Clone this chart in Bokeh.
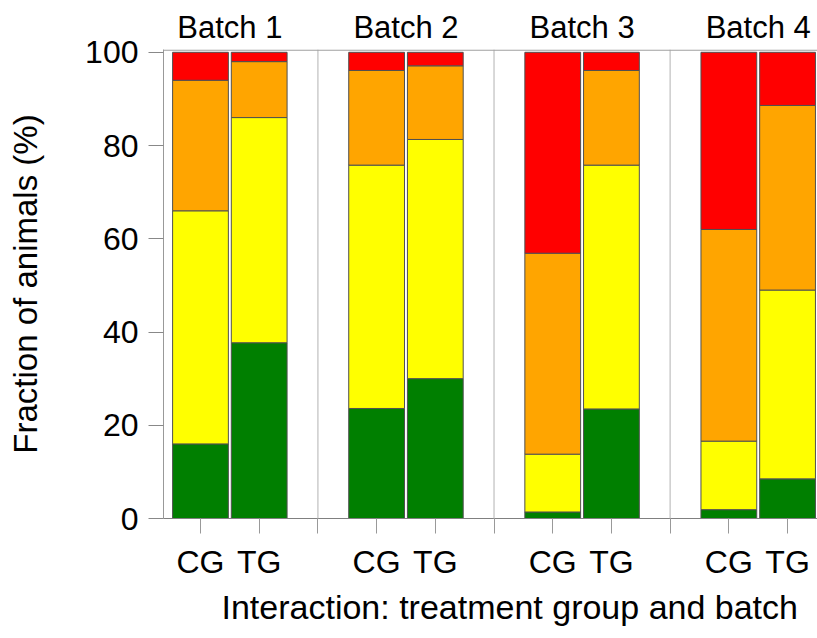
from bokeh.plotting import figure
from bokeh.models import ColumnDataSource, FixedTicker, Span, Title, LinearAxis
from bokeh.embed import file_html
from bokeh.resources import INLINE

# Bars: CG / TG for each of four batches (x positions leave a gap between batches)
groups = ["CG", "TG", "CG", "TG", "CG", "TG", "CG", "TG"]
batches = ["Batch 1", "Batch 2", "Batch 3", "Batch 4"]
xpos = [1, 2, 4, 5, 7, 8, 10, 11]
batch_centers = [1.5, 4.5, 7.5, 10.5]
separators = [3, 6, 9]

# Fraction of animals (%) per category, stacked bottom to top
green = [16.0, 37.7, 23.6, 30.0, 1.4, 23.5, 1.9, 8.5]
yellow = [50.0, 48.3, 52.2, 51.3, 12.4, 52.3, 14.7, 40.5]
orange = [28.0, 12.0, 20.3, 15.8, 43.1, 20.3, 45.4, 39.6]
red = [6.0, 2.0, 3.9, 2.9, 43.1, 3.9, 38.0, 11.4]

yticks = [0, 20, 40, 60, 80, 100]

FONT = "Liberation Sans"
FS = "32px"

source = ColumnDataSource(dict(x=xpos, green=green, yellow=yellow,
                               orange=orange, red=red))

p = figure(width=817, height=638, x_range=(0.37, 11.51), y_range=(0, 100.6),
           output_backend="svg", toolbar_location=None,
           min_border_left=163, min_border_right=0, min_border_top=49,
           min_border_bottom=120, x_axis_location=None)
p.background_fill_color = "white"
p.border_fill_color = "white"
p.outline_line_color = None
p.grid.visible = False

# Batch separators and top border
for s in separators:
    p.add_layout(Span(location=s, dimension="height", line_color="#cccccc",
                      line_width=1.5))
p.add_layout(Span(location=100.45, dimension="width", line_color="#a0a0a0",
                  line_width=1.2))

p.vbar_stack(["green", "yellow", "orange", "red"], x="x", width=0.95,
             source=source, color=["#007f00", "#ffff00", "#ffa500", "#ff0000"],
             line_color="#505050", line_width=1)

# Left axis
ya = p.yaxis[0]
ya.ticker = FixedTicker(ticks=yticks)
ya.axis_label = "Fraction of animals (%)"
ya.axis_label_text_font = FONT
ya.axis_label_text_font_size = "33px"
ya.axis_label_text_font_style = "normal"
ya.axis_label_text_color = "black"
ya.axis_label_standoff = 38
ya.major_label_text_font = FONT
ya.major_label_text_font_size = FS
ya.major_label_text_color = "black"
ya.major_label_standoff = 10
ya.major_tick_out = 15
ya.major_tick_in = 0
ya.minor_tick_line_color = None
ya.axis_line_color = "#999999"
ya.major_tick_line_color = "#888888"

# Bottom axis: group labels under each bar
xb = LinearAxis(ticker=FixedTicker(ticks=xpos + separators))
xb.major_label_overrides = {**{x: g for x, g in zip(xpos, groups)},
                            **{s: "" for s in separators}}
xb.major_label_text_font = FONT
xb.major_label_text_font_size = FS
xb.major_label_text_color = "black"
xb.major_label_standoff = 10
xb.major_tick_out = 15
xb.major_tick_in = 0
xb.minor_tick_line_color = None
xb.axis_line_color = "#808080"
xb.major_tick_line_color = "#999999"
p.add_layout(xb, "below")

# Top axis: batch names
xt = LinearAxis(ticker=FixedTicker(ticks=batch_centers))
xt.major_label_overrides = {c: b for c, b in zip(batch_centers, batches)}
xt.major_label_text_font = FONT
xt.major_label_text_font_size = "31px"
xt.major_label_text_color = "black"
xt.major_label_standoff = -1
xt.major_tick_line_color = None
xt.minor_tick_line_color = None
xt.axis_line_color = None
p.add_layout(xt, "above")

# x-axis title, placed under the group labels
p.add_layout(Title(text="Interaction: treatment group and batch",
                   text_font=FONT, text_font_size="34px", text_font_style="normal",
                   text_color="black", align="left", offset=58, standoff=7),
             "below")

open("out.html", "w").write(file_html(p, INLINE))
